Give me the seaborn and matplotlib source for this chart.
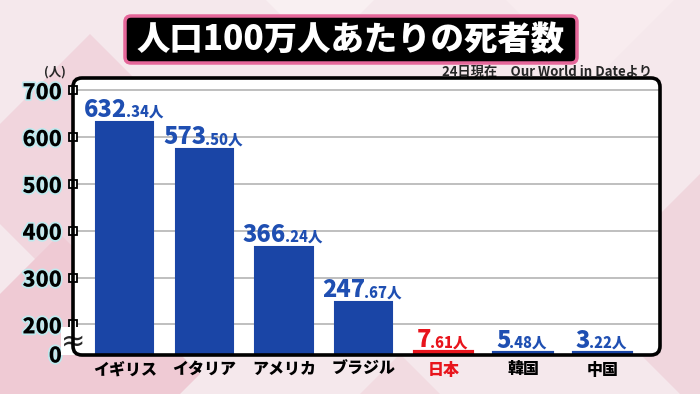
import numpy as np
import pandas as pd
import matplotlib
matplotlib.use("Agg")
import matplotlib.pyplot as plt
import matplotlib.patheffects as pe
from matplotlib.patches import FancyBboxPatch, Polygon
import seaborn as sns

countries = ["イギリス", "イタリア", "アメリカ", "ブラジル", "日本", "韓国", "中国"]
deaths = [632.34, 573.50, 366.24, 247.67, 7.61, 5.48, 3.22]
int_parts = ["632", "573", "366", "247", "7", "5", "3"]
dec_parts = [".34人", ".50人", ".24人", ".67人", ".61人", ".48人", ".22人"]
yticks = [0, 200, 300, 400, 500, 600, 700]
ytick_labels = ["0", "200", "300", "400", "500", "600", "700"]
title = "人口100万人あたりの死者数"
source = "24日現在　Our World in Dateより"
unit = "(人)"

BLUE = "#1a45a6"
LBLUE = "#1f4fb2"
RED = "#e8141c"
colors = {c: (RED if c == "日本" else BLUE) for c in countries}
label_colors = [RED if c == "日本" else LBLUE for c in countries]

sns.set_theme(style="white")
plt.rcParams["font.family"] = ["Noto Sans CJK JP", "DejaVu Sans"]

fig = plt.figure(figsize=(7.0, 3.94), dpi=100)
fig.patch.set_facecolor("#f5e8ec")

# background diamonds
bg = [
    ([(-0.5, 2.2), (0.9, 3.6), (2.3, 2.2), (0.9, 0.8)], "#f1d5dd"),
    ([(-0.8, 0.2), (0.6, 1.6), (2.0, 0.2), (0.6, -1.2)], "#efcad4"),
    ([(2.0, 4.6), (3.2, 3.4), (4.4, 4.6), (3.2, 5.8)], "#f9f0f2"),
    ([(4.6, 4.4), (5.9, 3.1), (7.2, 4.4), (5.9, 5.7)], "#f8ecef"),
    ([(5.8, 1.0), (7.2, 2.4), (8.6, 1.0), (7.2, -0.4)], "#f0d6dd"),
    ([(3.0, -0.6), (4.0, 0.4), (5.0, -0.6)], "#f2dbe1"),
]
for pts, col in bg:
    fig.patches.append(Polygon(pts, closed=True, transform=fig.dpi_scale_trans,
                               facecolor=col, edgecolor="none", zorder=-3))

# white panel
px0, px1, py0, py1 = 0.73, 6.60, 0.39, 3.16
fig.patches.append(FancyBboxPatch((px0, py0), px1 - px0, py1 - py0,
                                  boxstyle="round,pad=0,rounding_size=0.09",
                                  transform=fig.dpi_scale_trans,
                                  facecolor="white", edgecolor="none", zorder=-1))

ax = fig.add_axes([px0 / 7.0, py0 / 3.94, (px1 - px0) / 7.0, (py1 - py0) / 3.94])
ax.set_facecolor("none")
ax.set_zorder(1)

df = pd.DataFrame({"country": countries, "deaths": deaths})
sns.barplot(data=df, x="country", y="deaths", hue="country", palette=colors,
            saturation=1, legend=False, width=0.72, ax=ax, zorder=3)
for p in ax.patches:
    p.set_edgecolor(p.get_facecolor())
    p.set_linewidth(3.0 if p.get_height() < 50 else 1.5)

K = 0.31
def fwd(v):
    v = np.asarray(v, dtype=float)
    return np.where(v >= 200, v, 200 - (200 - v) * K)
def inv(u):
    u = np.asarray(u, dtype=float)
    return np.where(u >= 200, u, 200 - (200 - u) / K)

ax.set_yscale("function", functions=(fwd, inv))
ax.set_ylim(-10.3, 726)
ax.set_xlim(-0.65, 6.72)

for s in ax.spines.values():
    s.set_visible(False)

for t in yticks[1:]:
    ax.axhline(t, color="#b4b4b4", lw=1.2, zorder=1)

ax.set_xlabel("")
ax.set_ylabel("")
ax.set_yticks(yticks)
glow = [pe.withStroke(linewidth=2.5, foreground="#bfe9ee")]
ax.set_yticklabels(ytick_labels, fontsize=15.5, fontweight="heavy", color="black")
for lab in ax.get_yticklabels():
    lab.set_path_effects(glow)
ax.tick_params(axis="y", length=0, pad=8)
ax.tick_params(axis="x", length=0, pad=5)
ax.set_xticks(range(len(countries)))
ax.set_xticklabels(countries, fontsize=11.5, fontweight="heavy")
for lab, c in zip(ax.get_xticklabels(), countries):
    lab.set_color(RED if c == "日本" else "black")

# tick squares on the axis
ax.plot(np.full(len(yticks) - 1, -0.65), yticks[1:], "s", ms=6, mfc="white",
        mec="black", mew=1.3, clip_on=False, zorder=6)

# axis break mark
ax.text(-0.65, 85, "≈", fontsize=21, ha="center", va="center",
        family="DejaVu Sans", zorder=7,
        bbox=dict(facecolor="white", edgecolor="none", pad=0.1))

# unit label
fig.text(0.55 / 7.0, (394 - 72) / 394, unit, fontsize=9, fontweight="bold",
         ha="center", va="center")

# source
fig.text(652 / 700, (394 - 72) / 394, source, fontsize=9.5, fontweight="bold",
         ha="right", va="center")

# value labels
bigs, smalls = [], []
for i, (v, a, b, lc) in enumerate(zip(deaths, int_parts, dec_parts, label_colors)):
    t1 = ax.annotate(a, (i, v), xytext=(0, 5), textcoords="offset pixels",
                     ha="right", va="baseline", fontsize=17, fontweight="heavy",
                     color=lc, zorder=8, annotation_clip=False)
    t2 = ax.annotate(b, (i, v), xytext=(0, 5), textcoords="offset pixels",
                     ha="left", va="baseline", fontsize=10.5, fontweight="heavy",
                     color=lc, zorder=8, annotation_clip=False)
    bigs.append(t1)
    smalls.append(t2)

# border of panel (on top)
fig.patches.append(FancyBboxPatch((px0, py0), px1 - px0, py1 - py0,
                                  boxstyle="round,pad=0,rounding_size=0.09",
                                  transform=fig.dpi_scale_trans,
                                  facecolor="none", edgecolor="black", lw=2.6, zorder=5))

# title box
fig.patches.append(FancyBboxPatch((1.25, 3.31), 4.52, 0.47,
                                  boxstyle="round,pad=0,rounding_size=0.06",
                                  transform=fig.dpi_scale_trans,
                                  facecolor="black", edgecolor="#e5679a", lw=2.5, zorder=5))
fig.text(3.51 / 7.0, 3.545 / 3.94, title, fontsize=24, fontweight="heavy",
         color="white", ha="center", va="center", zorder=6)

fig.canvas.draw()
r = fig.canvas.get_renderer()
for t1, t2 in zip(bigs, smalls):
    w1 = t1.get_window_extent(r).width
    w2 = t2.get_window_extent(r).width
    dx = (w1 - w2) / 2 - 1
    t1.xyann = (dx, 5)
    t2.xyann = (dx - 1, 5)

fig.savefig("out.png", dpi=100, facecolor=fig.get_facecolor())
